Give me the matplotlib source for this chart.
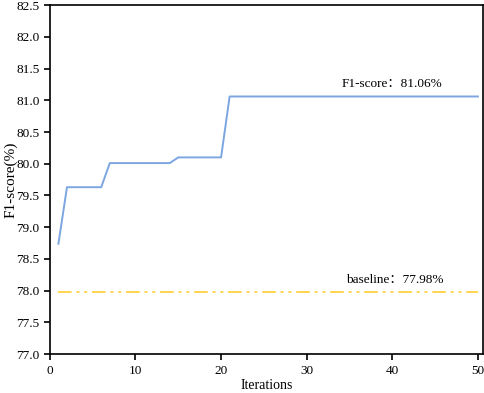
import matplotlib
matplotlib.use('Agg')
from matplotlib import pyplot as plt

# F1-score per iteration
iterations = list(range(1, 51))
f1_scores = ([78.74] + [79.63] * 5 + [80.01] * 8 + [80.10] * 6 + [81.06] * 30)
baseline = 77.98

plt.rcParams['font.family'] = ['Liberation Serif', 'Noto Sans CJK SC']
plt.rcParams['font.size'] = 10

fig = plt.figure(figsize=(4.84, 3.93), dpi=100)
ax = fig.add_axes([0.103, 0.099, 0.895, 0.888])

ax.plot(iterations, f1_scores, color="#7ca6e2", linewidth=1.4)
ax.plot(iterations, [baseline] * len(iterations), color="#ffd44e", linewidth=1.4,
        dashes=(7, 2.5, 1.5, 2.5, 1.5, 2.5))

ax.text(40.0, 81.06 + 0.1, "F1-score：81.06%", ha="center", va="bottom", fontsize=9.5)
ax.text(40.3, baseline + 0.1, "baseline：77.98%", ha="center", va="bottom", fontsize=9.5)

ax.set_xlim(0, 50.6)
ax.set_ylim(77.0, 82.5)
ax.set_xticks([0, 10, 20, 30, 40, 50])
ax.set_yticks([77.0 + 0.5 * i for i in range(12)])
ax.yaxis.set_major_formatter(matplotlib.ticker.FormatStrFormatter('%.1f'))
ax.set_xlabel("Iterations", labelpad=2, fontsize=10)
ax.set_ylabel("F1-score(%)", labelpad=-1, fontsize=11)
for s in ax.spines.values():
    s.set_linewidth(1.2)
ax.tick_params(width=1.2, length=4, labelsize=9.5)

fig.savefig("out.png", dpi=100)
